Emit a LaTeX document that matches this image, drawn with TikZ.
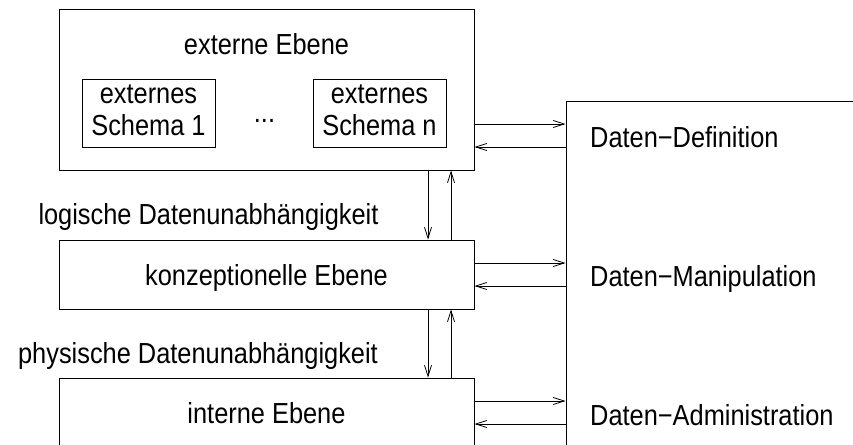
\documentclass[tikz,border=0pt]{standalone}
\usepackage{fontspec}
\setmainfont{Liberation Sans}[FakeStretch=0.875]
\usetikzlibrary{arrows.meta}
\begin{document}
\begin{tikzpicture}[x=1pt,y=-1pt,
  every node/.style={font=\fontsize{29}{32}\selectfont},
  box/.style={draw, line width=0.9pt, rectangle, inner sep=0pt},
  txt/.style={anchor=base, inner sep=0pt},
  ltxt/.style={anchor=base west, inner sep=0pt},
  arr/.style={line width=0.8pt, -{Straight Barb[length=11pt,width=7pt]}}]
\useasboundingbox (0,0) rectangle (853,444);

% level boxes
\node[box, minimum width=415pt, minimum height=161pt] (ext) at (266.5,89.5) {};
\node[box, minimum width=133pt, minimum height=68pt] (s1) at (148.5,113) {};
\node[box, minimum width=133pt, minimum height=68pt] (sn) at (379.5,113) {};
\node[box, minimum width=415pt, minimum height=69pt] (konz) at (266.5,274.5) {};
\node[box, minimum width=415pt, minimum height=92pt] (int) at (266.5,424) {};
% DBMS functions box, open to the right and bottom
\node[box, minimum width=334pt, minimum height=399pt] (dbms) at (733,300.5) {};

% texts
\node[txt] (text) at (266.5,55) {externe Ebene};
\node[txt] (s1a) at (148.5,103) {externes};
\node[txt] (s1b) at (148.5,135) {Schema 1};
\node[txt] (sna) at (379.5,103) {externes};
\node[txt] (snb) at (379.5,135) {Schema n};
\node[txt] (dots) at (264.5,122) {...};
\node[txt] (tkonz) at (266.5,285) {konzeptionelle Ebene};
\node[txt] (tint) at (266.5,423) {interne Ebene};
\node[txt] (logu) at (208.5,224) {logische Datenunabhängigkeit};
\node[txt] (physu) at (198,363) {physische Datenunabhängigkeit};
\node[ltxt] (def) at (590,147) {Daten−Definition};
\node[ltxt] (man) at (590,286) {Daten−Manipulation};
\node[ltxt] (adm) at (590,425) {Daten−Administration};

% helper coordinates for connector positions
\coordinate (xd) at (428,0);
\coordinate (xu) at (451,0);
\coordinate (y1) at (0,124);
\coordinate (y2) at (0,147);
\coordinate (y3) at (0,263);
\coordinate (y4) at (0,286);
\coordinate (y5) at (0,401);
\coordinate (y6) at (0,424);

% between levels
\draw[arr] (ext.south -| xd) -- (konz.north -| xd);
\draw[arr] (konz.north -| xu) -- (ext.south -| xu);
\draw[arr] (konz.south -| xd) -- (int.north -| xd);
\draw[arr] (int.north -| xu) -- (konz.south -| xu);

% levels to functions
\draw[arr] (ext.east |- y1) -- (dbms.west |- y1);
\draw[arr] (dbms.west |- y2) -- (ext.east |- y2);
\draw[arr] (konz.east |- y3) -- (dbms.west |- y3);
\draw[arr] (dbms.west |- y4) -- (konz.east |- y4);
\draw[arr] (int.east |- y5) -- (dbms.west |- y5);
\draw[arr] (dbms.west |- y6) -- (int.east |- y6);
\end{tikzpicture}
\end{document}
